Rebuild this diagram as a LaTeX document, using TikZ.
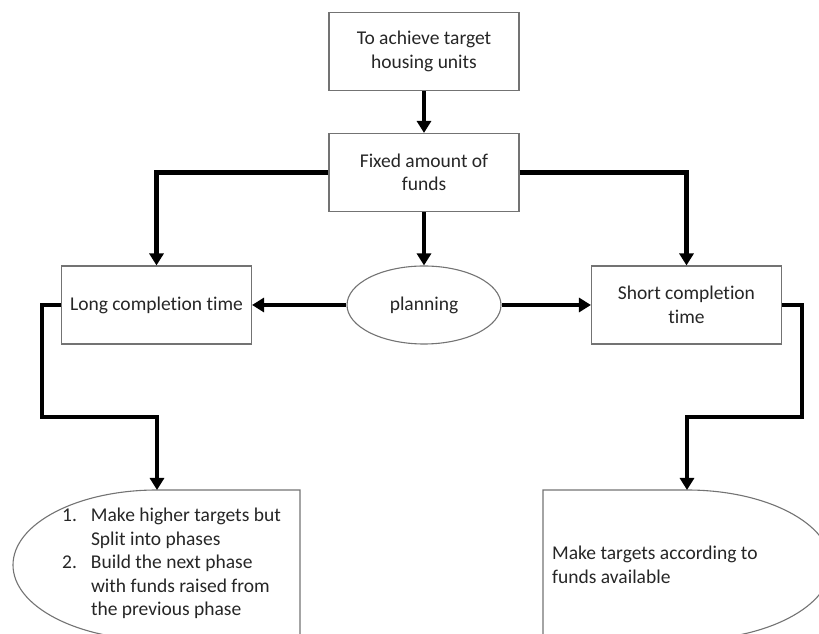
\documentclass[tikz,border=0pt]{standalone}
\usepackage{fontspec}
\setmainfont[Ligatures=NoCommon]{Carlito}
\usetikzlibrary{arrows.meta,shapes.geometric}

\begin{document}
\begin{tikzpicture}[x=1pt, y=1pt, line join=miter,
    every node/.style={font=\fontsize{19.5}{23.5}\selectfont, text=black!85},
    box/.style={draw=black!55, line width=1.1pt, minimum width=190pt, minimum height=78pt, inner sep=2pt, align=center},
    link/.style={line width=4.5pt, -{Triangle[width=14pt,length=12pt]}}]

    % page frame
    \useasboundingbox (0,0) rectangle (819,634);
    \clip (0,0) rectangle (819,634);

    % Boxes of the upper part
    \node[box] (target) at (424,582.5) {To achieve target\\housing units};
    \node[box] (funds)  at (424,461.5) {Fixed amount of\\funds};
    \node[box] (long)   at (156.5,329) {Long completion time};
    \node[box] (short)  at (686.5,329) {Short completion\\time};
    \node[draw=black!55, line width=1.1pt, ellipse, minimum width=154pt, minimum height=78pt, inner sep=0pt] (plan) at (424,329) {planning};

    % Lower shapes (half ellipse + rectangle), cut by the page
    \draw[black!55, line width=1.1pt] (157,144) -- (300,144) -- (300,-8) -- (157,-6)
        arc[start angle=270, end angle=90, x radius=144, y radius=75];
    \draw[black!55, line width=1.1pt] (687,144) -- (543,144) -- (543,-8) -- (687,-6)
        arc[start angle=-90, end angle=90, x radius=144, y radius=75];
    \coordinate (lowL) at (157,144);
    \coordinate (lowR) at (687,144);

    % Texts of the lower shapes
    \node[anchor=north west, inner sep=0pt, align=left] (phases) at (62,129) {%
        \begin{tabular}{@{}l@{\hspace{14pt}}l@{}}
        1. & Make higher targets but\\
           & Split into phases\\
        2. & Build the next phase\\
           & with funds raised from\\
           & the previous phase
        \end{tabular}};
    \node[anchor=west, inner sep=0pt, align=left] (avail) at (552,69) {Make targets according to\\funds available};

    % Connectors
    \draw[link] (target) -- (funds);
    \draw[link] (funds) -- (plan);
    \draw[link] (funds.west) -| (long.north);
    \draw[link] (funds.east) -| (short.north);
    \draw[link] (plan) -- (long);
    \draw[link] (plan) -- (short);
    \draw[link] (long.west) -- ++(-19,0) |- (157,217) -- (lowL);
    \draw[link] (short.east) -- ++(20,0) |- (687,217) -- (lowR);

\end{tikzpicture}
\end{document}
